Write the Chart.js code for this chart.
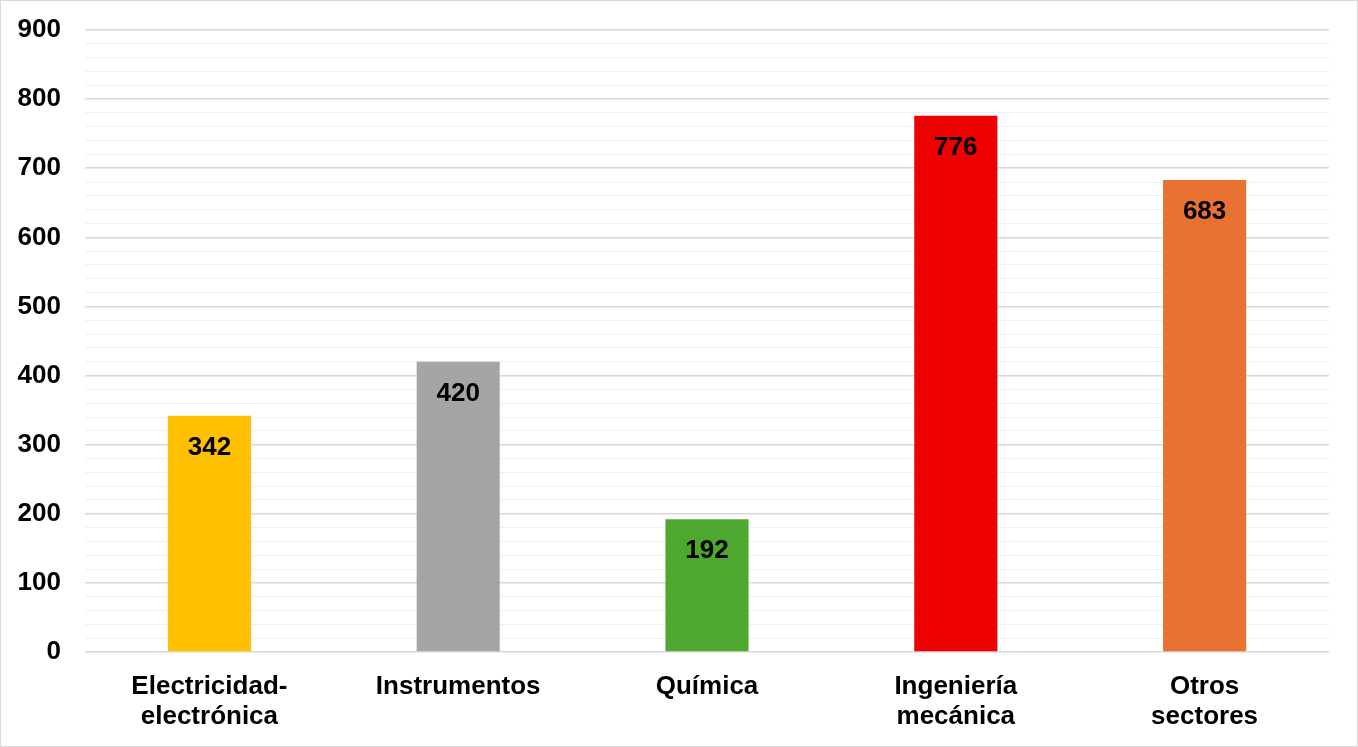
<!DOCTYPE html>
<html>
<head>
<meta charset="utf-8">
<script src="https://cdn.jsdelivr.net/npm/chart.js@4"></script>
<style>
  html, body { margin: 0; padding: 0; background: #fff; }
  #wrap { width: 1358px; height: 747px; border: 1px solid #d9d9d9; box-sizing: border-box; }
  canvas { display: block; }
</style>
</head>
<body>
<div id="wrap"><canvas id="chart" width="1356" height="745"></canvas></div>
<script>
const categories = [['Electricidad-', 'electrónica'], 'Instrumentos', 'Química', ['Ingeniería', 'mecánica'], ['Otros', 'sectores']];
const values = [342, 420, 192, 776, 683];
const barColors = ['#FFC000', '#A5A5A5', '#4EA72E', '#EE0000', '#E97132'];
const yMax = 900;

const FONT = "'Liberation Sans', Arial, sans-serif";

// value labels inside the top of each bar
const barLabels = {
  id: 'barLabels',
  afterDatasetsDraw(chart) {
    const ctx = chart.ctx;
    const meta = chart.getDatasetMeta(0);
    ctx.save();
    ctx.font = 'bold 26px ' + FONT;
    ctx.fillStyle = '#000';
    ctx.textAlign = 'center';
    ctx.textBaseline = 'middle';
    meta.data.forEach((bar, i) => {
      ctx.fillText(values[i], bar.x, bar.y + 32);
    });
    ctx.restore();
  }
};

new Chart(document.getElementById('chart'), {
  type: 'bar',
  data: {
    labels: categories,
    datasets: [{ data: values, backgroundColor: barColors, categoryPercentage: 1, barPercentage: 0.334 }]
  },
  options: {
    responsive: false,
    animation: false,
    layout: { padding: { top: 29, right: 28, left: 0, bottom: 0 } },
    plugins: { legend: { display: false }, tooltip: { enabled: false } },
    scales: {
      x: {
        grid: { display: false },
        border: { display: false },
        ticks: { color: '#000', font: { family: FONT, size: 26, weight: 'bold', lineHeight: 1.154 }, padding: 12, maxRotation: 0, autoSkip: false },
        afterFit: s => { s.height = 745 - 651; }
      },
      y: {
        min: 0, max: yMax,
        border: { display: false },
        grid: {
          drawTicks: false,
          color: c => c.tick.value % 100 === 0 ? '#d9d9d9' : '#f0f0f0',
          lineWidth: c => c.tick.value % 100 === 0 ? 1.5 : 1
        },
        ticks: {
          stepSize: 20, autoSkip: false, padding: 24, color: '#000',
          font: { family: FONT, size: 26, weight: 'bold' },
          callback: v => v % 100 === 0 ? v : ''
        },
        afterFit: s => { s.width = 84; s.paddingTop = 0; s.paddingBottom = 0; }
      }
    }
  },
  plugins: [barLabels]
});
</script>
</body>
</html>
